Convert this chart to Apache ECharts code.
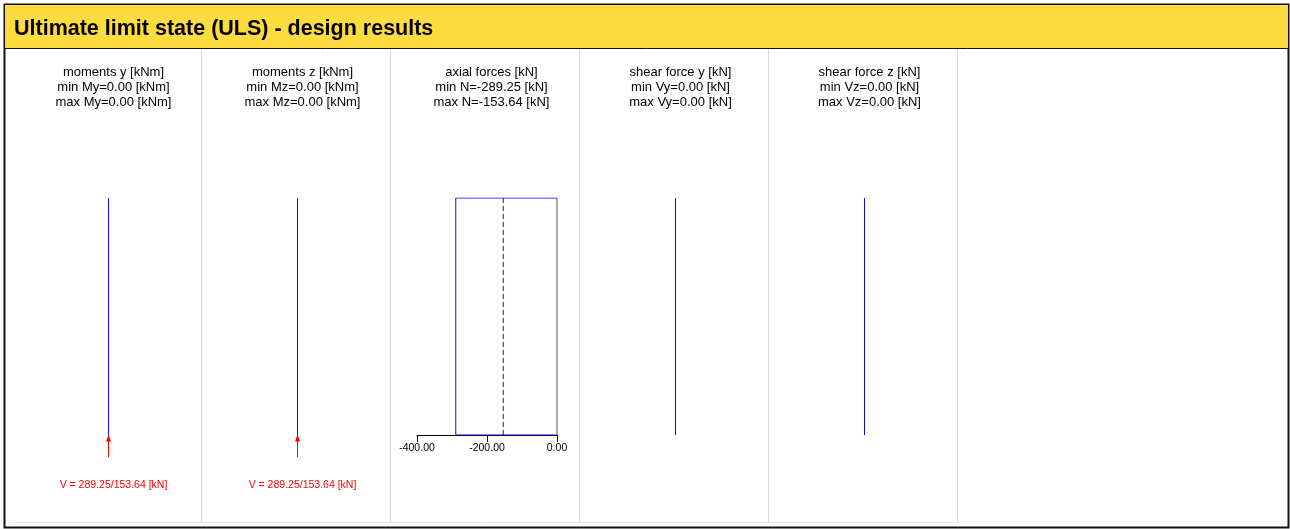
<!DOCTYPE html>
<html>
<head>
<meta charset="utf-8">
<script src="https://cdn.jsdelivr.net/npm/echarts@6/dist/echarts.min.js"></script>
<style>
html,body{margin:0;padding:0;background:#fff;}
#c{width:1290px;height:529px;}
</style>
</head>
<body>
<div id="c"></div>
<script>
// ---- data ----
var panelTitles = ['moments y [kNm]', 'moments z [kNm]', 'axial forces [kN]', 'shear force y [kN]', 'shear force z [kN]'];
var panelMinLabels = ['min My=0.00 [kNm]', 'min Mz=0.00 [kNm]', 'min N=-289.25 [kN]', 'min Vy=0.00 [kN]', 'min Vz=0.00 [kN]'];
var panelMaxLabels = ['max My=0.00 [kNm]', 'max Mz=0.00 [kNm]', 'max N=-153.64 [kN]', 'max Vy=0.00 [kN]', 'max Vz=0.00 [kN]'];
var memberPos = [0, 1];               // relative position along member (bottom -> top)
var momentY = [0, 0];
var momentZ = [0, 0];
var axialN = [-289.25, -289.25];
var axialDashed = [-153.64, -153.64];
var shearY = [0, 0];
var shearZ = [0, 0];
var axialTicks = [-400, -200, 0];
var supportLabel = 'V = 289.25/153.64 [kN]';
var supportArrowFrom = -0.093;        // arrow tail below member foot (relative)

// ---- layout ----
var panelLeft = 14, panelW = 189, nPanels = 5;
var gTop = 198, gH = 237;
var centers = [];
for (var i = 0; i < nPanels; i++) centers.push(panelLeft + panelW * i + 94.5);

function pts(xs) { return xs.map(function (v, k) { return [v, memberPos[k]]; }); }

var grids = [], xAxes = [], yAxes = [], series = [], titles = [];
var simplePanels = [0, 1, 3, 4];
var simpleData = [momentY, momentZ, null, shearY, shearZ];
var FONT = 'Liberation Sans';
var BLUE = '#0a0aff';

for (var p = 0; p < nPanels; p++) {
  if (p === 2) {
    grids.push({ left: 417, width: 140, top: gTop, height: gH });
    xAxes.push({
      gridIndex: p, type: 'value', min: axialTicks[0], max: axialTicks[axialTicks.length - 1], interval: 200,
      position: 'bottom', z: 0,
      axisLine: { show: true, onZero: false, lineStyle: { color: '#000', width: 1 } },
      axisTick: { show: true, length: 7, lineStyle: { color: '#000' } },
      axisLabel: { fontSize: 10.5, color: '#000', fontFamily: FONT, margin: 8,
        formatter: function (v) { return v.toFixed(2); } },
      splitLine: { show: false }
    });
  } else {
    grids.push({ left: centers[p] - 50, width: 100, top: gTop, height: gH });
    xAxes.push({ gridIndex: p, type: 'value', min: -1, max: 1, show: false });
  }
  yAxes.push({ gridIndex: p, type: 'value', min: 0, max: 1, show: false });
  titles.push({
    text: panelTitles[p] + '\n' + panelMinLabels[p] + '\n' + panelMaxLabels[p],
    left: centers[p], top: 60, textAlign: 'center',
    textStyle: { fontSize: 13, fontWeight: 'normal', color: '#000', fontFamily: FONT, lineHeight: 15 }
  });
}

// simple member lines
simplePanels.forEach(function (p) {
  series.push({
    type: 'line', xAxisIndex: p, yAxisIndex: p, data: pts(simpleData[p]),
    symbol: 'none', lineStyle: { color: BLUE, width: 1 }, silent: true, animation: false
  });
});

// axial force diagram outline
var axialOutline = [[0, memberPos[0]]].concat(pts(axialN)).concat([[0, memberPos[1]]]);
series.push({
  type: 'line', xAxisIndex: 2, yAxisIndex: 2, data: axialOutline, z: 5,
  symbol: 'none', lineStyle: { color: BLUE, width: 1 }, silent: true, animation: false
});
series.push({
  type: 'line', xAxisIndex: 2, yAxisIndex: 2, data: pts([0, 0]), z: 6,
  symbol: 'none', lineStyle: { color: '#555', width: 1 }, silent: true, animation: false
});
series.push({
  type: 'line', xAxisIndex: 2, yAxisIndex: 2, data: pts(axialDashed), z: 5,
  symbol: 'none', lineStyle: { color: BLUE, width: 1, type: [5, 3] }, silent: true, animation: false
});

// support reaction arrows in panels 1 and 2
[0, 1].forEach(function (p) {
  series.push({
    type: 'line', xAxisIndex: p, yAxisIndex: p, clip: false,
    data: [{ value: [0, supportArrowFrom], symbol: 'none' },
           { value: [0, 0], symbol: 'triangle', symbolSize: [5, 7], symbolOffset: [0, 3] }],
    lineStyle: { color: '#ff0000', width: 1 }, itemStyle: { color: '#ff0000' },
    silent: true, animation: false, z: 5
  });
  titles.push({
    text: supportLabel, left: centers[p], top: 475, textAlign: 'center',
    textStyle: { fontSize: 10.5, fontWeight: 'normal', color: '#ff0000', fontFamily: FONT }
  });
});

// frame / header graphics
var graphics = [
  { type: 'rect', shape: { x: 4.5, y: 4.5, width: 1284, height: 523 }, style: { fill: '#fff', stroke: '#111', lineWidth: 2 }, z: -10 },
  { type: 'rect', shape: { x: 5, y: 5, width: 1283, height: 43 }, style: { fill: '#FEDC40', stroke: null }, z: -9 },
  { type: 'line', shape: { x1: 5, y1: 48.5, x2: 1288, y2: 48.5 }, style: { stroke: '#111', lineWidth: 1 }, z: -8 },
  { type: 'text', x: 14, y: 29, style: { text: 'Ultimate limit state (ULS) - design results', font: 'bold 21.5px "Liberation Sans", Arial, sans-serif', fill: '#000', textVerticalAlign: 'middle' }, z: -7 },
  { type: 'line', shape: { x1: panelLeft, y1: 522.5, x2: panelLeft + panelW * nPanels, y2: 522.5 }, style: { stroke: '#e6e6e6', lineWidth: 1 }, z: -8 }
];
for (var d = 1; d <= nPanels; d++) {
  var dx = panelLeft + panelW * d - 1.5;
  graphics.push({ type: 'line', shape: { x1: dx, y1: 49, x2: dx, y2: 523 }, style: { stroke: '#dcdcdc', lineWidth: 1 }, z: -8 });
}

var chart = echarts.init(document.getElementById('c'), null, { renderer: 'canvas' });
chart.setOption({
  animation: false,
  backgroundColor: '#fff',
  title: titles,
  graphic: graphics,
  grid: grids,
  xAxis: xAxes,
  yAxis: yAxes,
  series: series
});
</script>
</body>
</html>
